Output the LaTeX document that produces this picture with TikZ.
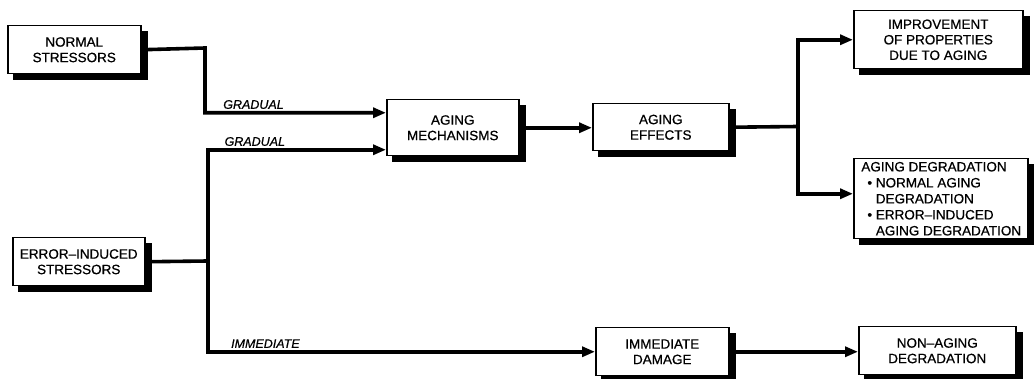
\documentclass[tikz,border=0pt]{standalone}
\usepackage{fontspec}
\setmainfont{Liberation Sans}[FakeBold=0.6,AutoFakeBold=0.6]
\usetikzlibrary{arrows.meta}
\pgfdeclarelayer{bg}
\pgfsetlayers{bg,main}
\begin{document}
\begin{tikzpicture}[x=1pt,y=-1pt,
  box/.style={draw,line width=1.5pt,fill=white,anchor=north west,inner sep=0pt,
    align=center,font=\fontsize{13.5}{15.5}\selectfont\bfseries},
  shadowfill/.style={fill=black},
  conn/.style={line width=3.6pt},
  arr/.style={conn,-{Triangle[length=13pt,width=10pt]}},
  lbl/.style={anchor=south west,inner sep=2pt,font=\fontsize{12.5}{14}\selectfont\itshape}]
\useasboundingbox (0,0) rectangle (1034,379);
% boxes
\node[box,minimum width=133pt,minimum height=48pt] (ns) at (7,25) {NORMAL\\STRESSORS};
\node[box,minimum width=132pt,minimum height=48pt] (ei) at (12,237) {ERROR--INDUCED\\STRESSORS};
\node[box,minimum width=132pt,minimum height=56pt] (am) at (386,99) {AGING\\MECHANISMS};
\node[box,minimum width=136pt,minimum height=47pt] (ae) at (592,103) {AGING\\EFFECTS};
\node[box,minimum width=169pt,minimum height=58pt] (imp) at (853,10) {IMPROVEMENT\\OF PROPERTIES\\DUE TO AGING};
\node[box,minimum width=174pt,minimum height=80pt,align=left,font=\fontsize{13.5}{16}\selectfont\bfseries] (deg) at (853,158)
  {\hspace*{1pt}AGING DEGRADATION\\
   \hspace*{7pt}\textbullet\ NORMAL AGING\\
   \hspace*{7pt}\phantom{\textbullet\ }DEGRADATION\\
   \hspace*{7pt}\textbullet\ ERROR--INDUCED\\
   \hspace*{7pt}\phantom{\textbullet\ }AGING DEGRADATION};
\node[box,minimum width=133pt,minimum height=48pt] (id) at (595,327) {IMMEDIATE\\DAMAGE};
\node[box,minimum width=157pt,minimum height=48pt] (na) at (858,326) {NON--AGING\\DEGRADATION};
% shadows
\begin{pgfonlayer}{bg}
\fill[white] (0,0) rectangle (1034,379);
\foreach \n in {ns,ei,am,ae,imp,deg,id,na}
  \fill[shadowfill] ([xshift=6pt,yshift=-6pt]\n.north west) rectangle ([xshift=6pt,yshift=-6pt]\n.south east);
\end{pgfonlayer}
% junctions
\coordinate (j1) at (205,48);
\coordinate (j2) at (208,261);
\coordinate (j3) at (798,126.5);
% connectors
\draw[arr] (ns.east) -- (j1) |- ([yshift=15pt]am.west) node[lbl,pos=0.54] {GRADUAL};
\draw[conn] (ei.east) -- (j2);
\draw[arr] (j2) |- ([yshift=-22pt]am.west) node[lbl,pos=0.536] {GRADUAL};
\draw[arr] (j2) |- (id.west) node[lbl,pos=0.525] {IMMEDIATE};
\draw[arr] (am.east) -- (am.east -| ae.west);
\draw[conn] (ae.east) -- (j3);
\draw[arr] (j3) |- (imp.west);
\draw[arr] (j3) |- ([yshift=5pt]deg.west);
\draw[arr] (id.east) -- (id.east -| na.west);
\end{tikzpicture}
\end{document}
